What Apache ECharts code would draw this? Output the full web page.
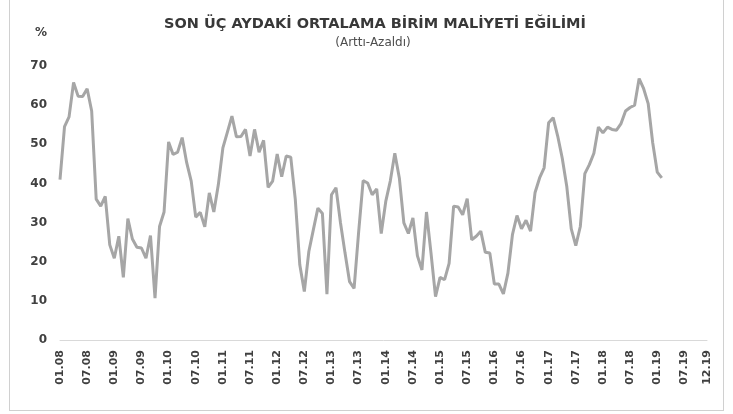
<!DOCTYPE html>
<html>
<head>
<meta charset="utf-8">
<script src="https://cdn.jsdelivr.net/npm/echarts@6/dist/echarts.min.js"></script>
<style>
html, body { margin: 0; padding: 0; background: #fff; }
#frame { position: absolute; left: 9px; top: -2px; width: 713px; height: 411px; border: 1px solid #d0d0d0; }
#chart { position: absolute; left: 0; top: 0; width: 733px; height: 414px; }
</style>
</head>
<body>
<div id="frame"></div>
<div id="chart"></div>
<script>
// months 01.08 .. 12.19
var months = [];
for (var y = 8; y <= 19; y++) {
    for (var m = 1; m <= 12; m++) {
        months.push((m < 10 ? '0' + m : '' + m) + '.' + (y < 10 ? '0' + y : '' + y));
    }
}

// 01.08 .. 02.19
var trendValues = [
    41.0, 54.5, 57.0, 65.8, 62.3, 62.2, 64.2, 58.5, 36.0, 34.2, 36.7, 24.3,
    20.9, 26.5, 16.0, 31.0, 25.8, 23.7, 23.5, 20.9, 26.7, 10.7, 29.0, 32.7,
    50.6, 47.4, 48.0, 51.7, 45.3, 40.6, 31.4, 32.6, 28.9, 37.6, 32.7, 39.7,
    49.1, 53.1, 57.2, 51.9, 52.0, 53.8, 47.0, 53.8, 48.0, 51.0, 39.0, 40.6,
    47.5, 41.7, 47.0, 46.7, 36.0, 19.2, 12.4, 22.6, 28.2, 33.7, 32.3, 11.7,
    37.1, 38.9, 29.9, 22.2, 14.9, 13.2, 27.5, 40.7, 40.1, 37.1, 38.6, 27.2,
    35.4, 40.6, 47.7, 41.4, 29.9, 27.2, 31.2, 21.5, 17.9, 32.7, 22.2, 11.1,
    16.0, 15.4, 19.6, 34.2, 34.0, 32.0, 36.1, 25.6, 26.5, 27.8, 22.4, 22.2,
    14.3, 14.3, 11.8, 17.1, 26.9, 31.8, 28.4, 30.6, 27.8, 37.7, 41.4, 44.0,
    55.5, 56.8, 52.1, 46.5, 39.3, 28.4, 24.1, 29.0, 42.5, 44.8, 47.7, 54.4,
    52.9, 54.4, 53.8, 53.6, 55.3, 58.5, 59.4, 60.0, 66.8, 64.2, 60.4, 50.4,
    42.9, 41.4
];

var chart = echarts.init(document.getElementById('chart'));
var option = {
    animation: false,
    title: [
        {
            text: 'SON ÜÇ AYDAKİ ORTALAMA BİRİM MALİYETİ EĞİLİMİ',
            left: 370,
            top: 12,
            textAlign: 'center',
            textStyle: { fontFamily: 'DejaVu Sans', fontWeight: 'bold', fontSize: 14.5, color: '#383838' }
        },
        {
            text: '(Arttı-Azaldı)',
            left: 368,
            top: 32,
            textAlign: 'center',
            textStyle: { fontFamily: 'DejaVu Sans', fontWeight: 'normal', fontSize: 12, color: '#4d4d4d' }
        },
        {
            text: '%',
            left: 30,
            top: 22,
            textStyle: { fontFamily: 'DejaVu Sans', fontWeight: 'bold', fontSize: 12, color: '#404040' }
        }
    ],
    grid: {
        left: 60,
        right: 26,
        top: 66,
        bottom: 74
    },
    xAxis: {
        type: 'category',
        data: months,
        boundaryGap: false,
        axisLine: { lineStyle: { color: '#d9d9d9', width: 1 } },
        axisTick: { show: false },
        axisLabel: {
            rotate: 90,
            margin: 10,
            fontFamily: 'DejaVu Sans',
            fontWeight: 'bold',
            fontSize: 11,
            color: '#404040',
            interval: function (i) { return i % 6 === 0 || i === months.length - 1; }
        },
        splitLine: { show: false }
    },
    yAxis: {
        type: 'value',
        min: 0,
        max: 70,
        interval: 10,
        axisLine: { show: false },
        axisTick: { show: false },
        splitLine: { show: false },
        axisLabel: {
            margin: 13,
            fontFamily: 'DejaVu Sans',
            fontWeight: 'bold',
            fontSize: 12,
            color: '#404040'
        }
    },
    series: [
        {
            type: 'line',
            data: trendValues,
            symbol: 'none',
            lineStyle: { color: '#a6a6a6', width: 3 }
        }
    ]
};
chart.setOption(option);
</script>
</body>
</html>
